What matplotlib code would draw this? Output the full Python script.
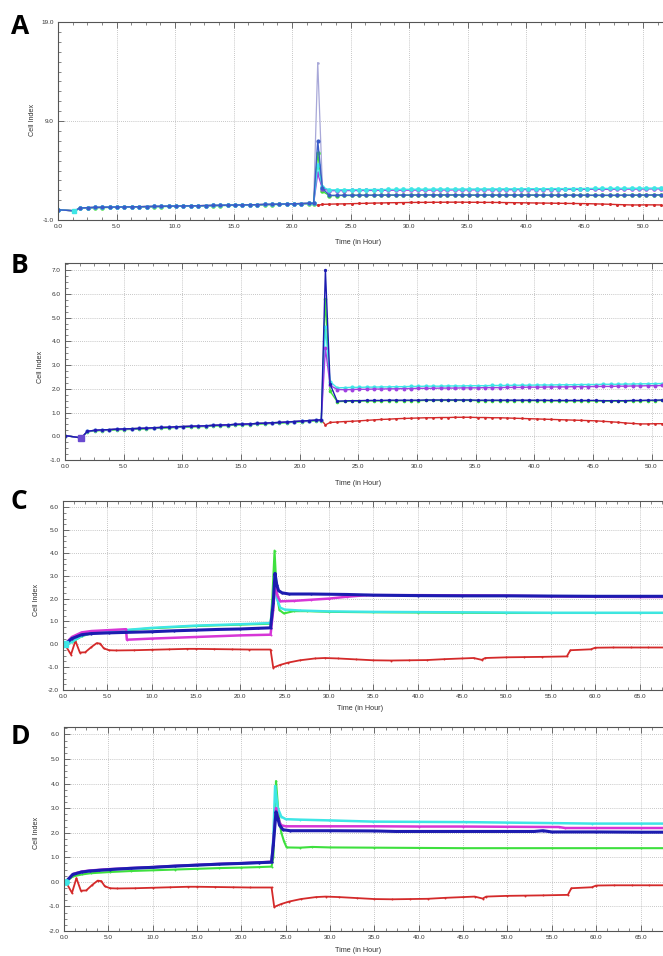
import numpy as np
import matplotlib
matplotlib.use('Agg')
import matplotlib.pyplot as plt
from matplotlib.ticker import MultipleLocator, FixedLocator, FormatStrFormatter

# ── colours of the RTCA traces ─────────────────────────────
RED = '#d42a2a'
BLUE = '#1c1cb0'
PURPLE = '#a040e0'
MAGENTA = '#d636d6'
CYAN = '#3ee6e6'
GREEN = '#3ee03e'
LAVENDER = '#a8a8d8'

# ════════════════════════════════════════════════════════════
# PANELS A / B  (same experiment, sweep every ~0.63 h)
# ════════════════════════════════════════════════════════════
t_start = [0.0, 1.4]
t_pre = [1.90, 2.53, 3.16, 3.79, 4.42, 5.05, 5.68, 6.31, 6.94, 7.57,
         8.20, 8.83, 9.46, 10.09, 10.72, 11.35, 11.98, 12.61, 13.24, 13.87,
         14.50, 15.13, 15.76, 16.39, 17.02, 17.65, 18.28, 18.91, 19.54, 20.17,
         20.80, 21.43]
t_spike = [21.85, 22.2, 22.6]
t_post = [23.20, 23.83, 24.46, 25.09, 25.72, 26.35, 26.98, 27.61, 28.24, 28.87,
          29.50, 30.13, 30.76, 31.39, 32.02, 32.65, 33.28, 33.91, 34.54, 35.17,
          35.80, 36.43, 37.06, 37.69, 38.32, 38.95, 39.58, 40.21, 40.84, 41.47,
          42.10, 42.73, 43.36, 43.99, 44.62, 45.25, 45.88, 46.51, 47.14, 47.77,
          48.40, 49.03, 49.66, 50.29, 50.92, 51.55]

v_start = [0.03, -0.07]
v_pre = [0.21, 0.25, 0.27, 0.28, 0.30, 0.31, 0.32, 0.33, 0.34, 0.36,
         0.37, 0.38, 0.40, 0.41, 0.42, 0.43, 0.44, 0.46, 0.47, 0.48,
         0.50, 0.51, 0.52, 0.54, 0.55, 0.57, 0.58, 0.60, 0.62, 0.64,
         0.66, 0.68]
v_pre_green = [0.19, 0.22, 0.24, 0.25, 0.27, 0.28, 0.29, 0.30, 0.31, 0.33,
               0.34, 0.35, 0.37, 0.38, 0.39, 0.40, 0.41, 0.43, 0.44, 0.45,
               0.47, 0.48, 0.49, 0.51, 0.52, 0.54, 0.55, 0.57, 0.59, 0.61,
               0.63, 0.65]

spike_blue = [0.69, 7.0, 2.2]
spike_purple = [0.69, 3.7, 2.15]
spike_cyan = [0.69, 4.6, 2.3]
spike_green = [0.66, 5.8, 1.9]
spike_red = [0.69, 0.48, 0.58]
spike_lavender = [0.69, 14.9, 2.4]

post_blue = [1.48, 1.49, 1.50, 1.50, 1.51, 1.51, 1.51, 1.52, 1.52, 1.52,
             1.52, 1.52, 1.53, 1.53, 1.53, 1.53, 1.53, 1.53, 1.53, 1.52,
             1.52, 1.52, 1.52, 1.52, 1.52, 1.52, 1.52, 1.52, 1.52, 1.51,
             1.51, 1.51, 1.51, 1.51, 1.51, 1.51, 1.50, 1.50, 1.50, 1.50,
             1.51, 1.51, 1.52, 1.52, 1.53, 1.53]
post_green = [1.46, 1.47, 1.48, 1.48, 1.49, 1.49, 1.49, 1.50, 1.50, 1.50,
              1.50, 1.50, 1.51, 1.51, 1.51, 1.51, 1.51, 1.51, 1.51, 1.50,
              1.50, 1.50, 1.50, 1.50, 1.50, 1.50, 1.50, 1.50, 1.50, 1.49,
              1.49, 1.49, 1.49, 1.49, 1.49, 1.49, 1.48, 1.48, 1.48, 1.48,
              1.49, 1.49, 1.50, 1.50, 1.51, 1.51]
post_purple = [1.97, 1.96, 1.97, 1.98, 1.98, 1.99, 1.99, 2.00, 2.00, 2.01,
               2.01, 2.02, 2.02, 2.02, 2.03, 2.03, 2.03, 2.04, 2.04, 2.04,
               2.05, 2.05, 2.05, 2.06, 2.06, 2.06, 2.07, 2.07, 2.07, 2.08,
               2.08, 2.08, 2.09, 2.09, 2.09, 2.10, 2.10, 2.10, 2.11, 2.11,
               2.12, 2.12, 2.13, 2.13, 2.14, 2.14]
post_cyan = [2.04, 2.05, 2.06, 2.06, 2.07, 2.07, 2.08, 2.08, 2.09, 2.09,
             2.10, 2.10, 2.11, 2.11, 2.11, 2.12, 2.12, 2.12, 2.13, 2.13,
             2.13, 2.14, 2.14, 2.14, 2.15, 2.15, 2.15, 2.16, 2.16, 2.16,
             2.17, 2.17, 2.17, 2.18, 2.18, 2.18, 2.19, 2.19, 2.19, 2.20,
             2.20, 2.21, 2.21, 2.22, 2.22, 2.23]
post_red = [0.60, 0.62, 0.63, 0.65, 0.67, 0.69, 0.71, 0.72, 0.74, 0.75,
            0.76, 0.77, 0.78, 0.78, 0.79, 0.79, 0.80, 0.80, 0.80, 0.79,
            0.79, 0.78, 0.78, 0.77, 0.76, 0.75, 0.74, 0.73, 0.72, 0.71,
            0.70, 0.69, 0.68, 0.67, 0.66, 0.65, 0.63, 0.61, 0.59, 0.56,
            0.54, 0.52, 0.52, 0.53, 0.53, 0.52]

# lavender well only shows in panel A (large spike), hidden in band after
t_lavender_post = [23.2]
v_lavender_post = [1.9]

a_yticks = [-1.0, 9.0, 19.0]

# ════════════════════════════════════════════════════════════
# PANELS C / D  (dense sweeps, read at key points)
# ════════════════════════════════════════════════════════════
t_red_cd = [0.2, 0.9, 1.4, 1.9, 2.5, 3.2, 3.8, 4.2, 4.6, 5.2,
            6.0, 8.0, 10.0, 12.0, 14.0, 15.0, 17.0, 19.0, 21.0, 23.4,
            23.7, 24.5, 25.4, 26.7, 28.4, 29.5, 31.0, 33.0, 35.0, 37.0,
            39.0, 41.0, 43.0, 45.0, 46.3, 47.2, 47.6, 50.0, 52.0, 54.0,
            56.8, 57.2, 59.5, 60.0, 62.0, 64.0, 66.0, 68.0]
v_red_cd = [0.0, -0.45, 0.15, -0.36, -0.35, -0.12, 0.05, 0.03, -0.18, -0.26,
            -0.27, -0.26, -0.24, -0.22, -0.20, -0.20, -0.21, -0.22, -0.23, -0.23,
            -1.02, -0.90, -0.80, -0.70, -0.62, -0.60, -0.62, -0.66, -0.70, -0.71,
            -0.70, -0.69, -0.65, -0.62, -0.60, -0.68, -0.60, -0.57, -0.56, -0.55,
            -0.53, -0.26, -0.22, -0.15, -0.14, -0.14, -0.14, -0.14]

t_c_blue = [0.2, 1.0, 2.1, 3.2, 5.2, 7.0, 10.0, 12.5, 15.0, 17.5, 20.0, 22.0, 23.4,
            23.7, 23.9, 24.1, 24.3, 24.7, 25.5, 28.0, 32.0, 35.0, 40.0, 45.0,
            50.0, 55.0, 60.0, 65.0, 68.0]
v_c_blue = [0.0, 0.25, 0.42, 0.47, 0.50, 0.52, 0.55, 0.59, 0.62, 0.65, 0.67, 0.70, 0.72,
            1.8, 3.1, 2.6, 2.35, 2.25, 2.2, 2.2, 2.18, 2.15, 2.13, 2.12,
            2.12, 2.11, 2.10, 2.10, 2.10]

t_c_magenta = [0.2, 1.0, 2.1, 3.2, 5.2, 7.1, 7.2, 10.0, 15.0, 20.0, 23.4,
               23.7, 23.9, 24.2, 24.5, 26.0, 28.0, 30.0, 32.0, 34.2, 40.0,
               45.0, 50.0, 55.0, 60.0, 65.0, 68.0]
v_c_magenta = [0.0, 0.32, 0.52, 0.58, 0.62, 0.66, 0.20, 0.25, 0.32, 0.39, 0.42,
               1.5, 2.6, 2.1, 1.88, 1.90, 1.95, 2.00, 2.08, 2.15, 2.15,
               2.14, 2.13, 2.10, 2.08, 2.07, 2.07]

t_c_cyan = [0.2, 1.0, 2.1, 3.2, 5.2, 7.2, 10.0, 15.0, 20.0, 23.4,
            23.7, 23.85, 24.1, 24.5, 25.0, 26.7, 30.0, 35.0, 40.0, 45.0,
            50.0, 55.0, 60.0, 65.0, 68.0]
v_c_cyan = [0.0, 0.10, 0.37, 0.50, 0.58, 0.63, 0.72, 0.82, 0.88, 0.93,
            1.9, 3.0, 2.0, 1.6, 1.52, 1.48, 1.44, 1.42, 1.41, 1.40,
            1.39, 1.38, 1.38, 1.38, 1.38]

t_c_green = [0.2, 1.0, 2.1, 3.2, 5.2, 10.0, 15.0, 20.0, 23.4, 23.6,
             23.85, 24.1, 24.4, 24.9, 26.0, 27.5, 30.0, 35.0, 40.0, 45.0,
             50.0, 55.0, 60.0, 65.0, 68.0]
v_c_green = [0.0, 0.10, 0.35, 0.48, 0.56, 0.70, 0.80, 0.86, 0.90, 2.0,
             4.1, 2.2, 1.5, 1.35, 1.45, 1.45, 1.42, 1.40, 1.39, 1.38,
             1.37, 1.37, 1.37, 1.37, 1.37]

t_d_blue = [0.2, 1.0, 2.0, 2.9, 4.0, 5.2, 7.5, 10.0, 12.5, 15.0, 17.5, 20.0, 22.0, 23.4,
            23.6, 23.9, 24.1, 24.3, 24.7, 25.5, 30.0, 35.0, 37.4, 40.0, 45.0,
            50.0, 53.0, 54.0, 55.0, 60.0, 65.0, 68.0]
v_d_blue = [0.0, 0.30, 0.40, 0.44, 0.47, 0.50, 0.55, 0.59, 0.64, 0.68, 0.72, 0.75, 0.78, 0.80,
            1.5, 2.85, 2.6, 2.3, 2.12, 2.08, 2.08, 2.07, 2.05, 2.05, 2.05,
            2.05, 2.05, 2.08, 2.03, 2.03, 2.02, 2.02]

t_d_magenta = [0.2, 1.0, 2.0, 2.9, 4.0, 5.2, 7.5, 10.0, 12.5, 15.0, 17.5, 20.0, 22.0, 23.4,
               23.6, 23.9, 24.2, 24.5, 25.0, 30.0, 35.0, 40.0, 45.0, 50.0,
               55.8, 56.5, 60.0, 65.0, 68.0]
v_d_magenta = [0.0, 0.32, 0.42, 0.46, 0.49, 0.52, 0.56, 0.60, 0.65, 0.69, 0.73, 0.76, 0.79, 0.82,
               1.6, 3.0, 2.5, 2.3, 2.26, 2.26, 2.26, 2.25, 2.25, 2.24,
               2.23, 2.19, 2.19, 2.19, 2.19]

t_d_cyan = [0.2, 1.0, 2.0, 2.9, 4.0, 5.2, 7.5, 10.0, 12.5, 15.0, 17.5, 20.0, 22.0, 23.4,
            23.6, 23.8, 24.1, 24.5, 25.0, 26.6, 29.9, 34.8, 40.0, 45.3,
            50.0, 55.0, 59.5, 65.0, 68.0]
v_d_cyan = [0.0, 0.31, 0.41, 0.45, 0.48, 0.51, 0.55, 0.59, 0.64, 0.68, 0.72, 0.75, 0.78, 0.80,
            1.8, 3.9, 3.0, 2.65, 2.55, 2.53, 2.50, 2.45, 2.44, 2.43,
            2.41, 2.39, 2.37, 2.37, 2.37]

t_d_green = [0.2, 1.0, 2.0, 3.0, 5.2, 7.5, 10.0, 12.5, 15.0, 17.5, 20.0, 22.0, 23.4,
             23.6, 23.9, 24.2, 24.5, 24.8, 25.1, 26.6, 28.0, 30.0, 35.0, 40.0,
             45.0, 50.0, 55.0, 60.0, 65.0, 68.0]
v_d_green = [0.0, 0.22, 0.30, 0.35, 0.40, 0.44, 0.47, 0.50, 0.53, 0.56, 0.58, 0.60, 0.62,
             1.0, 4.1, 2.7, 2.0, 1.65, 1.40, 1.39, 1.42, 1.40, 1.39, 1.38,
             1.37, 1.37, 1.37, 1.37, 1.37, 1.37]

# ════════════════════════════════════════════════════════════
# FIGURE  (663 x 956 px)
# ════════════════════════════════════════════════════════════
W, H = 663, 956
fig = plt.figure(figsize=(W / 100, H / 100), dpi=100)
fig.patch.set_facecolor('white')

def px_axes(left, top, bottom):
  # axes run off the right edge, like the cropped screenshot
  return fig.add_axes([left / W, 1 - bottom / H, (W - left) / W, (bottom - top) / H])

def style_axes(ax, xmax, ylim, ymajor, yminor):
  ax.set_xlim(0, xmax)
  ax.set_ylim(*ylim)
  ax.xaxis.set_major_locator(MultipleLocator(5))
  ax.xaxis.set_minor_locator(MultipleLocator(1.25))
  if isinstance(ymajor, list):
    ax.yaxis.set_major_locator(FixedLocator(ymajor))
  else:
    ax.yaxis.set_major_locator(MultipleLocator(ymajor))
  ax.yaxis.set_minor_locator(MultipleLocator(yminor))
  ax.xaxis.set_major_formatter(FormatStrFormatter('%.1f'))
  ax.yaxis.set_major_formatter(FormatStrFormatter('%.1f'))
  ax.tick_params(which='both', direction='in', top=True, right=False,
                 labelsize=4.6, labelcolor='#333333', color='#555555', pad=3)
  ax.tick_params(which='major', length=4, width=0.6)
  ax.tick_params(which='minor', length=2, width=0.5)
  for lbl in ax.get_xticklabels() + ax.get_yticklabels():
    lbl.set_family('Liberation Sans')
  ax.grid(which='major', linestyle=(0, (1, 1.5)), color='#b4b4b4', linewidth=0.6)
  for side in ['left', 'top', 'bottom']:
    ax.spines[side].set_color('#555555')
    ax.spines[side].set_linewidth(0.8)
  ax.spines['right'].set_visible(False)
  ax.set_axisbelow(True)

def trace(ax, t, v, color, ms=2.4, lw=1.0, **kw):
  ax.plot(t, v, color=color, lw=lw, marker='o', ms=ms, mec=color,
          mew=0, clip_on=True, **kw)

def label_panel(letter, y, xlab_y, ylab_x, ylab_y, xlab_x=358):
  fig.text(11 / W, 1 - y / H, letter, fontsize=19, fontweight='bold',
           family='Open Sans', va='center', ha='left')
  fig.text(xlab_x / W, 1 - xlab_y / H, 'Time (in Hour)', fontsize=5.2,
           family='Liberation Sans', color='#333333', ha='center', va='center')
  fig.text(ylab_x / W, 1 - ylab_y / H, 'Cell Index', fontsize=5.2, rotation=90,
           family='Liberation Sans', color='#333333', ha='center', va='center')

t_ab = t_start + t_pre + t_spike + t_post

# ── A ───────────────────────────────────────────────────────
ax_a = px_axes(58, 22, 220)
style_axes(ax_a, (W - 58) / 11.7, (-1, 19), a_yticks, 1)
trace(ax_a, t_ab, v_start + v_pre + spike_red + post_red, RED, ms=2.2)
trace(ax_a, t_start + t_pre + t_spike + t_lavender_post,
      v_start + v_pre + spike_lavender + v_lavender_post, LAVENDER, ms=1.8, lw=0.9)
trace(ax_a, t_ab, v_start + v_pre_green + spike_green + post_green, GREEN, ms=3.2)
trace(ax_a, t_ab, v_start + v_pre + spike_purple + post_purple, PURPLE, ms=3.2)
trace(ax_a, t_ab, v_start + v_pre + spike_cyan + post_cyan, CYAN, ms=3.4)
trace(ax_a, t_ab, v_start + v_pre + spike_blue + post_blue, '#3a5cc8', ms=3.0)
ax_a.plot(t_start[1:], v_start[1:], 's', color=CYAN, ms=3.5)
label_panel('A', 26, 243, 33, 120)

# ── B ───────────────────────────────────────────────────────
ax_b = px_axes(65, 263, 460)
style_axes(ax_b, (W - 65) / 11.73, (-1, 7.3), 1, 0.25)
trace(ax_b, t_ab, v_start + v_pre + spike_red + post_red, RED, ms=2.0)
trace(ax_b, t_ab, v_start + v_pre_green + spike_green + post_green, GREEN, ms=2.6)
trace(ax_b, t_ab, v_start + v_pre + spike_cyan + post_cyan, CYAN, ms=3.0)
trace(ax_b, t_ab, v_start + v_pre + spike_purple + post_purple, PURPLE, ms=2.8)
trace(ax_b, t_ab, v_start + v_pre + spike_blue + post_blue, BLUE, ms=2.4)
ax_b.plot(t_start[1:], v_start[1:], 's', color='#6a4ad0', ms=4)
label_panel('B', 266, 483, 41, 367)

# ── C ───────────────────────────────────────────────────────
ax_c = px_axes(63, 501, 690)
style_axes(ax_c, (W - 63) / 8.87, (-2, 6.27), 1, 0.25)
trace(ax_c, t_red_cd, v_red_cd, RED, ms=1.4, lw=1.3)
trace(ax_c, t_c_green, v_c_green, GREEN, ms=1.4, lw=1.5)
trace(ax_c, t_c_cyan, v_c_cyan, CYAN, ms=1.4, lw=1.7)
trace(ax_c, t_c_magenta, v_c_magenta, MAGENTA, ms=1.4, lw=1.8)
trace(ax_c, t_c_blue, v_c_blue, BLUE, ms=1.6, lw=2.2)
ax_c.plot([0.25], [0.0], 's', color=CYAN, ms=4)
label_panel('C', 502, 709, 37, 600, 360)

# ── D ───────────────────────────────────────────────────────
ax_d = px_axes(64, 727, 931)
style_axes(ax_d, (W - 64) / 8.87, (-2, 6.3), 1, 0.25)
trace(ax_d, t_red_cd, v_red_cd, RED, ms=1.4, lw=1.3)
trace(ax_d, t_d_green, v_d_green, GREEN, ms=1.4, lw=1.5)
trace(ax_d, t_d_cyan, v_d_cyan, CYAN, ms=1.4, lw=1.8)
trace(ax_d, t_d_magenta, v_d_magenta, MAGENTA, ms=1.4, lw=1.8)
trace(ax_d, t_d_blue, v_d_blue, BLUE, ms=1.6, lw=2.2)
ax_d.plot([0.25], [0.0], 'o', color=CYAN, ms=4)
label_panel('D', 737, 950, 37, 833)

fig.savefig('out.png', dpi=100)
